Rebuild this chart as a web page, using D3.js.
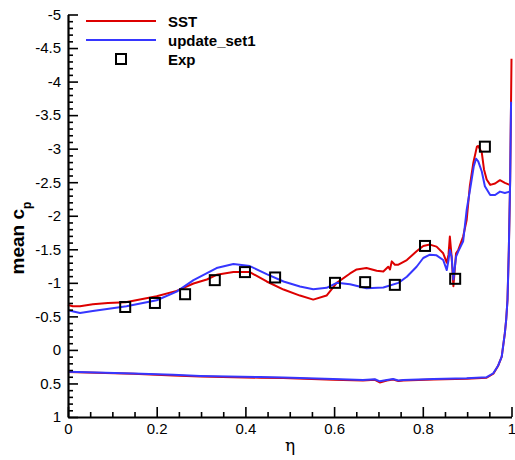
<!DOCTYPE html>
<html>
<head>
<meta charset="utf-8">
<script src="https://cdn.jsdelivr.net/npm/d3@7"></script>
<style>
  html, body { margin: 0; padding: 0; background: #fff; }
  svg { display: block; font-family: "Liberation Sans", Arial, sans-serif; }
</style>
</head>
<body>
<svg id="chart" width="515" height="460"></svg>
<script>
// Mean pressure coefficient along the span coordinate eta
const xTicks = [0, 0.2, 0.4, 0.6, 0.8, 1];
const yTicks = [-5, -4.5, -4, -3.5, -3, -2.5, -2, -1.5, -1, -0.5, 0, 0.5, 1];

// SST, upper branch
const sstUpperEta = [0, 0.011, 0.027, 0.056, 0.09, 0.13, 0.2, 0.245, 0.283, 0.313, 0.335, 0.373, 0.41, 0.448, 0.486, 0.523, 0.553, 0.583, 0.606, 0.636, 0.651, 0.673, 0.696, 0.711, 0.722, 0.726, 0.730, 0.737, 0.745, 0.764, 0.786, 0.801, 0.816, 0.831, 0.846, 0.854, 0.858, 0.861, 0.865, 0.869, 0.875, 0.880, 0.891, 0.899, 0.906, 0.914, 0.922, 0.925, 0.933, 0.938, 0.944, 0.952, 0.963, 0.974, 0.985, 0.996];
const sstUpperCp = [-0.67, -0.65, -0.65, -0.68, -0.70, -0.71, -0.80, -0.88, -0.99, -1.05, -1.12, -1.16, -1.16, -1.02, -0.90, -0.81, -0.75, -0.81, -1.00, -1.14, -1.20, -1.22, -1.18, -1.17, -1.24, -1.20, -1.32, -1.27, -1.27, -1.34, -1.47, -1.55, -1.57, -1.54, -1.44, -1.30, -1.42, -1.69, -1.39, -0.95, -1.44, -1.49, -1.69, -1.94, -2.44, -2.79, -3.03, -3.04, -2.94, -2.69, -2.54, -2.46, -2.48, -2.53, -2.49, -2.46];

// SST, lower branch (ends in the trailing-edge rise)
const sstLowerEta = [0, 0.147, 0.237, 0.298, 0.433, 0.485, 0.598, 0.665, 0.692, 0.703, 0.719, 0.733, 0.745, 0.756, 0.824, 0.899, 0.944, 0.959, 0.970, 0.978, 0.985, 0.988, 0.991, 0.994, 0.997, 0.999, 1.0];
const sstLowerCp = [0.33, 0.355, 0.38, 0.395, 0.415, 0.42, 0.445, 0.455, 0.445, 0.485, 0.455, 0.44, 0.465, 0.455, 0.44, 0.43, 0.415, 0.355, 0.235, 0.10, -0.25, -0.45, -0.75, -1.49, -2.54, -3.70, -4.34];

// update_set1, upper branch
const updUpperEta = [0, 0.027, 0.056, 0.132, 0.2, 0.245, 0.283, 0.335, 0.373, 0.41, 0.448, 0.486, 0.523, 0.553, 0.583, 0.606, 0.636, 0.673, 0.711, 0.745, 0.764, 0.786, 0.801, 0.816, 0.831, 0.846, 0.854, 0.858, 0.861, 0.865, 0.869, 0.875, 0.880, 0.891, 0.899, 0.909, 0.915, 0.920, 0.925, 0.933, 0.940, 0.952, 0.963, 0.974, 0.985, 0.996];
const updUpperCp = [-0.59, -0.55, -0.58, -0.65, -0.74, -0.87, -1.04, -1.22, -1.28, -1.25, -1.13, -1.02, -0.945, -0.905, -0.925, -1.00, -0.98, -0.92, -0.93, -1.00, -1.09, -1.24, -1.37, -1.42, -1.41, -1.34, -1.19, -1.34, -1.49, -1.39, -1.05, -1.39, -1.47, -1.62, -2.09, -2.49, -2.74, -2.85, -2.81, -2.66, -2.44, -2.31, -2.31, -2.36, -2.34, -2.36];

// update_set1, lower branch
const updLowerEta = [0, 0.147, 0.237, 0.298, 0.433, 0.485, 0.598, 0.665, 0.692, 0.703, 0.719, 0.733, 0.745, 0.756, 0.824, 0.899, 0.944, 0.959, 0.970, 0.978, 0.985, 0.988, 0.991, 0.994, 0.997, 0.999];
const updLowerCp = [0.325, 0.35, 0.372, 0.387, 0.405, 0.41, 0.432, 0.447, 0.437, 0.468, 0.447, 0.433, 0.455, 0.447, 0.433, 0.422, 0.407, 0.348, 0.231, 0.10, -0.25, -0.45, -0.75, -1.49, -2.54, -3.70];

// Experimental data
const expEta = [0.129, 0.196, 0.264, 0.331, 0.399, 0.467, 0.602, 0.670, 0.737, 0.805, 0.873, 0.940];
const expCp = [-0.64, -0.70, -0.83, -1.04, -1.16, -1.08, -1.00, -1.01, -0.97, -1.55, -1.06, -3.03];

const seriesNames = ["SST", "update_set1", "Exp"];
const seriesColors = ["#dd0000", "#3636ff", "#000000"];

const svg = d3.select("#chart");
const x = d3.scaleLinear().domain([0, 1]).range([68, 511.5]);
const y = d3.scaleLinear().domain([-5, 1]).range([14.5, 417]);

const fmt = d => String(+d.toFixed(1));
const minorX = d3.range(0, 1.0001, 0.05).map(v => +v.toFixed(2)).filter(v => !xTicks.includes(v));
const minorY = d3.range(-5, 1.0001, 0.1).map(v => +v.toFixed(1)).filter(v => !yTicks.includes(v));

// curves
const line = d3.line().x(d => x(d[0])).y(d => y(d[1]));
const zip = (a, b) => a.map((v, i) => [v, b[i]]);
const curves = [
  { pts: zip(sstUpperEta, sstUpperCp), color: seriesColors[0] },
  { pts: zip(sstLowerEta, sstLowerCp), color: seriesColors[0] },
  { pts: zip(updUpperEta, updUpperCp), color: seriesColors[1] },
  { pts: zip(updLowerEta, updLowerCp), color: seriesColors[1] }
];
svg.append("g").selectAll("path").data(curves).join("path")
  .attr("d", d => line(d.pts))
  .attr("fill", "none")
  .attr("stroke", d => d.color)
  .attr("stroke-width", 2)
  .attr("stroke-linejoin", "round");

// experimental squares
const sq = 10;
svg.append("g").selectAll("rect").data(zip(expEta, expCp)).join("rect")
  .attr("x", d => x(d[0]) - sq / 2)
  .attr("y", d => y(d[1]) - sq / 2)
  .attr("width", sq).attr("height", sq)
  .attr("fill", "none")
  .attr("stroke", "#000")
  .attr("stroke-width", 2);

// axes (ticks point into the plot)
const xAxis = svg.append("g").attr("transform", `translate(0,${y(1)})`)
  .call(d3.axisBottom(x).tickValues(xTicks).tickFormat(fmt).tickSizeInner(-10).tickSizeOuter(0).tickPadding(5));
svg.append("g").attr("transform", `translate(0,${y(1)})`)
  .call(d3.axisBottom(x).tickValues(minorX).tickFormat("").tickSizeInner(-5).tickSizeOuter(0))
  .select(".domain").remove();
const yAxis = svg.append("g").attr("transform", `translate(${x(0)},0)`)
  .call(d3.axisLeft(y).tickValues(yTicks).tickFormat(fmt).tickSizeInner(-10).tickSizeOuter(0).tickPadding(7));
svg.append("g").attr("transform", `translate(${x(0)},0)`)
  .call(d3.axisLeft(y).tickValues(minorY).tickFormat("").tickSizeInner(-5).tickSizeOuter(0))
  .select(".domain").remove();

svg.selectAll(".domain").attr("stroke", "#000").attr("stroke-width", 2.2);
svg.selectAll(".tick line").attr("stroke", "#000").attr("stroke-width", 1.6);
svg.selectAll(".tick text").attr("font-size", 15).attr("fill", "#000")
  .attr("font-family", "'Liberation Sans', Arial, sans-serif");
xAxis.selectAll(".tick text").attr("dy", "0.8em");

// axis titles
svg.append("text")
  .attr("x", 290).attr("y", 451)
  .attr("text-anchor", "middle")
  .attr("font-family", "'DejaVu Serif', serif")
  .attr("font-size", 17)
  .text("η");

const yTitle = svg.append("text")
  .attr("transform", "translate(24,238) rotate(-90)")
  .attr("text-anchor", "middle")
  .attr("font-weight", "bold")
  .attr("font-size", 19);
yTitle.append("tspan").text("mean c");
yTitle.append("tspan").attr("baseline-shift", "sub").attr("font-size", 12).text("p");

// legend
const leg = svg.append("g");
const legY = [21, 40, 59];
[0, 1].forEach(i => {
  leg.append("line")
    .attr("x1", 86).attr("x2", 156)
    .attr("y1", legY[i]).attr("y2", legY[i])
    .attr("stroke", seriesColors[i]).attr("stroke-width", 2);
});
leg.append("rect")
  .attr("x", 121 - sq / 2).attr("y", legY[2] - sq / 2)
  .attr("width", sq).attr("height", sq)
  .attr("fill", "none").attr("stroke", "#000").attr("stroke-width", 2);
seriesNames.forEach((n, i) => {
  leg.append("text")
    .attr("x", 168).attr("y", legY[i] + 5.5)
    .attr("font-weight", "bold")
    .attr("font-size", 15)
    .text(n);
});
</script>
</body>
</html>
